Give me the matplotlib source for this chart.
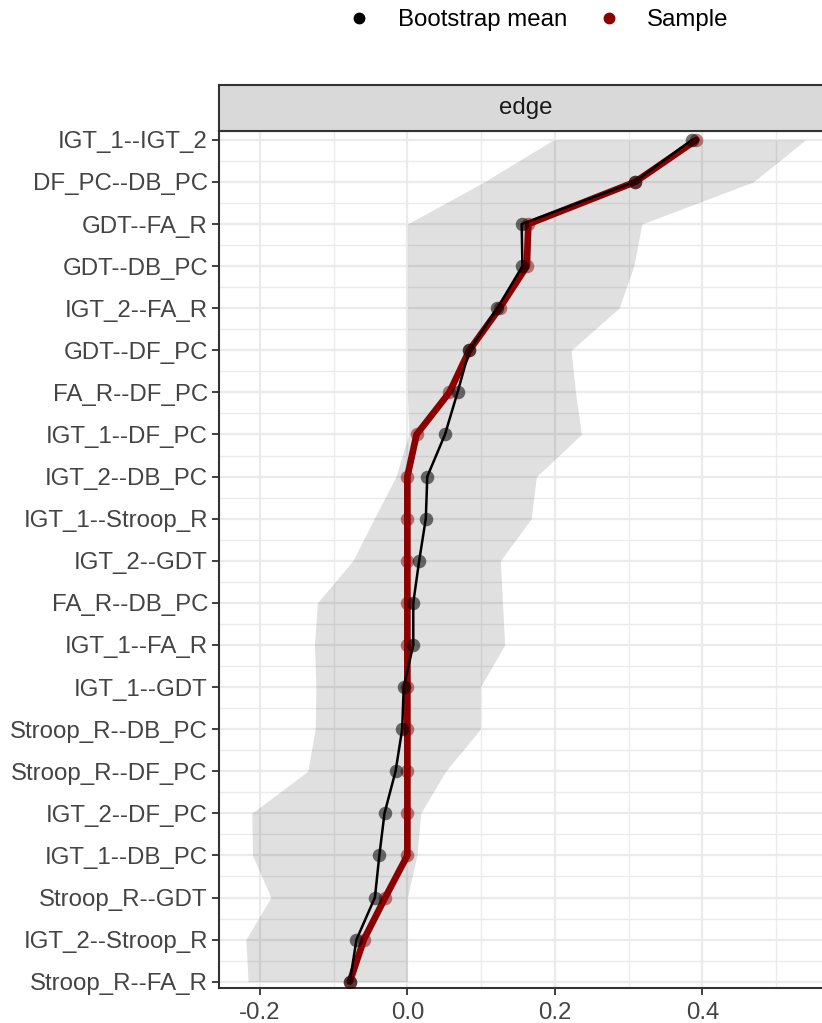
import numpy as np
import matplotlib
matplotlib.use("Agg")
import matplotlib.pyplot as plt
from matplotlib.lines import Line2D

plt.rcParams['font.family'] = ['Liberation Sans', 'DejaVu Sans']

edges = ["IGT_1--IGT_2", "DF_PC--DB_PC", "GDT--FA_R", "GDT--DB_PC", "IGT_2--FA_R",
         "GDT--DF_PC", "FA_R--DF_PC", "IGT_1--DF_PC", "IGT_2--DB_PC", "IGT_1--Stroop_R",
         "IGT_2--GDT", "FA_R--DB_PC", "IGT_1--FA_R", "IGT_1--GDT", "Stroop_R--DB_PC",
         "Stroop_R--DF_PC", "IGT_2--DF_PC", "IGT_1--DB_PC", "Stroop_R--GDT",
         "IGT_2--Stroop_R", "Stroop_R--FA_R"]
boot_mean = [0.386, 0.308, 0.155, 0.156, 0.122, 0.084, 0.068, 0.051, 0.027, 0.025,
             0.016, 0.008, 0.008, -0.005, -0.007, -0.016, -0.031, -0.038, -0.044,
             -0.069, -0.078]
sample = [0.392, 0.309, 0.164, 0.162, 0.125, 0.084, 0.057, 0.0125, 0.0, 0.0,
          0.0, 0.0, 0.0, 0.0, 0.0, 0.0, 0.0, 0.0, -0.030, -0.059, -0.078]
ci_lower = [0.198, 0.104, 0.0, 0.0, 0.0, 0.0, 0.0, 0.002, -0.0155, -0.045,
            -0.074, -0.122, -0.126, -0.124, -0.125, -0.135, -0.211, -0.210,
            -0.185, -0.219, -0.216]
ci_upper = [0.540, 0.469, 0.318, 0.307, 0.287, 0.222, 0.228, 0.236, 0.175, 0.168,
            0.126, 0.129, 0.132, 0.099, 0.099, 0.052, 0.018, 0.013, 0.0, 0.0, 0.0]
x_ticks = [-0.2, 0.0, 0.2, 0.4]
x_minor = [-0.1, 0.1, 0.3, 0.5]
strip_label = "edge"
legend_labels = ["Bootstrap mean", "Sample"]

W, H = 822, 1023
fig = plt.figure(figsize=(W / 100, H / 100), dpi=100)

px_left, px_right, px_top, px_bottom = 219, 833, 131, 988
ax = fig.add_axes([px_left / W, 1 - px_bottom / H, (px_right - px_left) / W,
                   (px_bottom - px_top) / H])

ypos = np.arange(len(edges))
fs = 17.3
grid_c = '#ebebeb'
dark = '#333333'
red = '#8b0000'

ax.set_facecolor('white')
ax.set_xlim(-0.2554, 0.5771)
ax.set_ylim(len(edges) - 1 + 0.15, -0.21)

ax.set_xticks(x_ticks)
ax.set_xticklabels([f"{v:.1f}" for v in x_ticks])
ax.set_xticks(x_minor, minor=True)
ax.set_yticks(ypos)
ax.set_yticklabels(edges)
ax.set_yticks(ypos[:-1] + 0.5, minor=True)

ax.grid(True, which='major', color=grid_c, linewidth=1.6, zorder=0)
ax.grid(True, which='minor', color=grid_c, linewidth=1.0, zorder=0)
ax.set_axisbelow(True)

ax.tick_params(axis='both', which='major', labelsize=fs, labelcolor='#444444',
               color=dark, length=5, width=1.3)
ax.tick_params(axis='y', which='major', pad=3)
ax.tick_params(axis='x', which='major', pad=5)
ax.tick_params(axis='both', which='minor', length=0)

for s in ax.spines.values():
    s.set_color(dark)
    s.set_linewidth(1.5)

ax.fill_betweenx(ypos, ci_lower, ci_upper, color='black', alpha=0.12,
                 linewidth=0, zorder=1)
ax.plot(sample, ypos, color=red, linewidth=4.8, zorder=2, solid_capstyle='round')
ax.plot(boot_mean, ypos, color='black', linewidth=1.8, zorder=3)
ax.scatter(sample, ypos, s=95, color=red, alpha=0.5, linewidths=0, zorder=4)
ax.scatter(boot_mean, ypos, s=95, color='black', alpha=0.55, linewidths=0, zorder=5)

# facet strip
sax = fig.add_axes([px_left / W, 1 - px_top / H, (px_right - px_left) / W, 46 / H])
sax.set_facecolor('#d9d9d9')
sax.set_xticks([])
sax.set_yticks([])
for s in sax.spines.values():
    s.set_color(dark)
    s.set_linewidth(1.5)
sax.text(0.5, 0.5, strip_label, ha='center', va='center', fontsize=fs,
         color='#1a1a1a', transform=sax.transAxes)

handles = [Line2D([], [], linestyle='none', marker='o', markersize=7.5, color='black'),
           Line2D([], [], linestyle='none', marker='o', markersize=7.5, color=red)]
fig.legend(handles, legend_labels, loc='center', bbox_to_anchor=(538 / W, 1 - 20 / H),
           ncol=2, frameon=False, fontsize=fs, handletextpad=1.1,
           columnspacing=1.25, handlelength=1.0)

fig.savefig("out.png", dpi=100)
